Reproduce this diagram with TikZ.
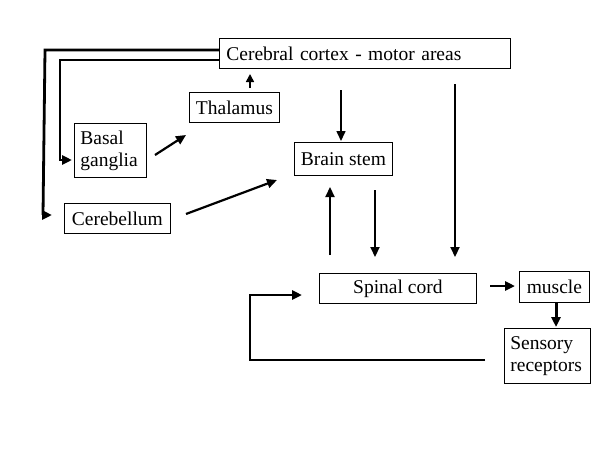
\documentclass[tikz,border=0pt]{standalone}
\usepackage{fontspec}
\setmainfont{Liberation Serif}
\usetikzlibrary{arrows.meta}
\begin{document}
\begin{tikzpicture}[x=1pt,y=-1pt,
  box/.style={draw,line width=0.8pt,anchor=north west,inner sep=0pt,font=\fontsize{19.5}{22}\selectfont},
  arr/.style={line width=2.2pt,-{Triangle[length=10pt,width=9pt]}}]
\useasboundingbox (0,0) rectangle (600,450);
\node[box,minimum width=291pt,minimum height=30pt,text width=277pt,align=left,inner xsep=7pt] (cortex) at (219,38) {Cerebral cortex - motor areas};
\node[box,minimum width=90pt,minimum height=30pt] (thal) at (189,92) {Thalamus};
\node[box,minimum height=54pt,text width=60pt,align=left,inner xsep=6pt,inner ysep=3pt] (basal) at (74,123) {\strut Basal\\ganglia};
\node[box,minimum width=106pt,minimum height=30pt] (cereb) at (64,203) {Cerebellum};
\node[box,minimum width=98pt,minimum height=33pt] (stem) at (294,142) {Brain stem};
\node[box,minimum width=157pt,minimum height=30pt] (spinal) at (319,273) {Spinal cord};
\node[box,minimum width=70pt,minimum height=31pt] (muscle) at (519,271) {muscle};
\node[box,minimum height=55pt,text width=74pt,align=left,inner xsep=6pt] (sens) at (504,328) {Sensory\\receptors};
% free ends
\coordinate (t1) at (250,88);
\coordinate (t2) at (250,74);
\coordinate (b1) at (155,155);
\coordinate (b2) at (186,135);
\coordinate (c1) at (186,214);
\coordinate (c2) at (277,180);
\coordinate (d1) at (341,90);
\coordinate (d2) at (341,141);
\coordinate (u1) at (330,255);
\coordinate (u2) at (330,187);
\coordinate (s1) at (375,190);
\coordinate (s2) at (375,257);
\coordinate (k1) at (455,84);
\coordinate (k2) at (455,257);
\coordinate (m1) at (490,286);
\coordinate (m2) at (515,286);
\coordinate (r1) at (556,303);
\coordinate (r2) at (556,327);
\coordinate (f1) at (485,360);
\coordinate (f2) at (250,360);
\coordinate (f3) at (250,295);
\coordinate (f4) at (302,295);
\coordinate (g1) at (219,60);
\coordinate (g2) at (60,60);
\coordinate (g3) at (60,160);
\coordinate (g4) at (72,160);
\coordinate (h1) at (219,50);
\coordinate (h2) at (45,50);
\coordinate (h3) at (43,215);
\coordinate (h4) at (52,215);
\draw[arr,line width=1.6pt,-{Triangle[length=8pt,width=8pt]}] (t1) -- (t2);
\draw[arr] (b1) -- (b2);
\draw[arr] (c1) -- (c2);
\draw[arr,line width=1.6pt] (d1) -- (d2);
\draw[arr] (u1) -- (u2);
\draw[arr] (s1) -- (s2);
\draw[arr] (k1) -- (k2);
\draw[arr,line width=2.8pt] (m1) -- (m2);
\draw[arr,line width=3pt] (r1) -- (r2);
\draw[arr,line width=2.8pt] (f1) -- (f2) -- (f3) -- (f4);
\draw[arr,line width=2.8pt] (g1) -- (g2) -- (g3) -- (g4);
\draw[arr,line width=2.8pt] (h1) -- (h2) -- (h3) -- (h4);
\end{tikzpicture}
\end{document}
